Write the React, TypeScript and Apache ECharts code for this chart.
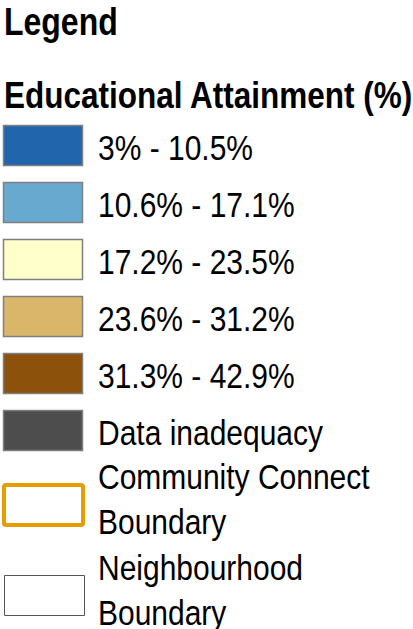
import React, { useEffect, useRef } from "react";
import * as echarts from "echarts";

const legendTitle = "Legend";
const themeTitle = "Educational Attainment (%)";
const classLabels = ["3% - 10.5%", "10.6% - 17.1%", "17.2% - 23.5%", "23.6% - 31.2%", "31.3% - 42.9%", "Data inadequacy"];
const classColors = ["#2166AC", "#67A9CF", "#FFFFCC", "#DAB66B", "#8C510A", "#4D4D4D"];
const boundaryLabels = [["Community Connect", "Boundary"], ["Neighbourhood", "Boundary"]];
const boundaryColors = ["#E69B00", "#555555"];
const boundaryWidths = [4, 1];

export default function App() {
  const ref = useRef<HTMLDivElement>(null);
  useEffect(() => {
    document.body.style.margin = "0";
    if (!ref.current) return;
    const chart = echarts.init(ref.current, undefined, { renderer: "svg" });
    const font = "'Liberation Sans', Arial, sans-serif";
    const labelScaleY = 1.17;
    const elements: any[] = [];
    elements.push({
      type: "text", x: 4, y: 21, scaleY: 1.2,
      style: { text: legendTitle, fontFamily: font, fontWeight: "bold", fontSize: 32, fill: "#000", verticalAlign: "middle", align: "left" },
    });
    elements.push({
      type: "text", x: 4, y: 95, scaleY: 1.18,
      style: { text: themeTitle, fontFamily: font, fontWeight: "bold", fontSize: 31.5, fill: "#000", verticalAlign: "middle", align: "left" },
    });
    const top0 = 125, step = 57, boxH = 41, boxW = 80;
    classLabels.forEach((lab, i) => {
      const top = top0 + i * step;
      elements.push({
        type: "rect",
        shape: { x: 3.5, y: top + 0.5, width: boxW - 1, height: boxH - 1 },
        style: { fill: classColors[i], stroke: "#7F7F7F", lineWidth: 1.5 },
      });
      elements.push({
        type: "text", x: 98, y: top + boxH / 2 + 2, scaleY: labelScaleY,
        style: { text: lab, fontFamily: font, fontSize: 30, fill: "#000", verticalAlign: "middle", align: "left" },
      });
    });
    const bTops = [483, 575];
    const bFirstLine = [477, 568];
    boundaryLabels.forEach((lines, i) => {
      const w = boundaryWidths[i];
      const outerX = i === 0 ? 2 : 4;
      const outerW = i === 0 ? 83 : 81;
      const outerH = i === 0 ? 44 : 41;
      elements.push({
        type: "rect",
        shape: { x: outerX + w / 2, y: bTops[i] + w / 2, width: outerW - w, height: outerH - w, r: i === 0 ? 2 : 0 },
        style: { fill: "#FFFFFF", stroke: boundaryColors[i], lineWidth: w },
      });
      lines.forEach((ln, j) => {
        elements.push({
          type: "text", x: 98, y: bFirstLine[i] + j * 45, scaleY: labelScaleY,
          style: { text: ln, fontFamily: font, fontSize: 30, fill: "#000", verticalAlign: "middle", align: "left" },
        });
      });
    });
    chart.setOption({ animation: false, backgroundColor: "#FFFFFF", graphic: { elements } });
    return () => chart.dispose();
  }, []);
  return <div ref={ref} style={{ width: 413, height: 629, position: "absolute", left: 0, top: 0 }} />;
}
